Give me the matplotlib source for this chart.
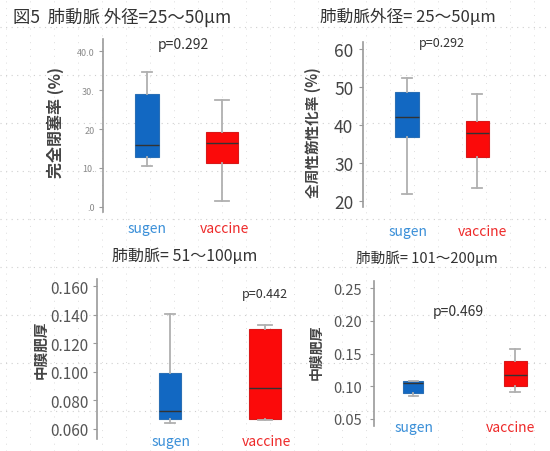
import matplotlib
matplotlib.use('Agg')
import matplotlib.pyplot as plt
import numpy as np

plt.rcParams['font.family'] = ['Noto Sans CJK JP', 'DejaVu Sans']

groups = ['sugen', 'vaccine']

# whisker low, Q1, median, Q3, whisker high
occl_sugen = [10.5, 12.8, 15.9, 29.0, 34.6]
occl_vaccine = [1.5, 11.3, 16.4, 19.2, 27.4]
fib_sugen = [21.8, 36.8, 42.1, 48.7, 52.4]
fib_vaccine = [23.4, 31.6, 37.9, 41.1, 48.2]
med51_sugen = [0.064, 0.067, 0.0725, 0.0995, 0.1405]
med51_vaccine = [0.066, 0.067, 0.089, 0.130, 0.133]
med101_sugen = [0.0847, 0.089, 0.1046, 0.1076, 0.1076]
med101_vaccine = [0.091, 0.100, 0.117, 0.138, 0.1566]

ticks1 = [0, 10, 20, 30, 40]
ticklabels1 = ['.0', '10.', '20', '30.', '40.0']
ticks2 = [20, 30, 40, 50, 60]
ticks3 = [0.06, 0.08, 0.10, 0.12, 0.14, 0.16]
ticklabels3 = ['0.060', '0.080', '0.100', '0.120', '0.140', '0.160']
ticks4 = [0.05, 0.10, 0.15, 0.20, 0.25]
ticklabels4 = ['0.05', '0.10', '0.15', '0.20', '0.25']

W, H = 550, 452
fig = plt.figure(figsize=(5.5, 4.52), dpi=100)

# faint slide grid in the background
bg = fig.add_axes([0, 0, 1, 1])
bg.set_xlim(0, W)
bg.set_ylim(H, 0)
bg.axis('off')
for yy in np.arange(28, H, 48):
    bg.axhline(yy, color='#cfcfcf', lw=0.8, ls=(0, (1, 4)))
for xx in np.arange(6, W, 24):
    bg.axvline(xx, color='#dddddd', lw=0.7, ls=(0, (1, 6)))

blue_box = '#1268c2'
red_box = '#fb0a0a'
blue_txt = '#3a8fd8'
red_txt = '#ee2a2a'


def px_axes(left, right, top, bottom):
    return fig.add_axes([left / W, 1 - bottom / H, (right - left) / W, (bottom - top) / H])


def stats(vals, label):
    lo, q1, med, q3, hi = vals
    return dict(whislo=lo, q1=q1, med=med, q3=q3, whishi=hi, label=label, fliers=[])


def panel(ax, s_vals, v_vals, widths, ylim, xlim):
    bp = ax.bxp([stats(s_vals, groups[0]), stats(v_vals, groups[1])],
                positions=[1, 2], widths=widths, patch_artist=True,
                showfliers=False,
                whiskerprops=dict(color='#b0b0b0', lw=1.3),
                capprops=dict(color='#b0b0b0', lw=1.3),
                medianprops=dict(color='#333333', lw=1.0))
    for patch, fc, ec in zip(bp['boxes'], [blue_box, red_box], ['#2a6fb5', '#d81818']):
        patch.set_facecolor(fc)
        patch.set_edgecolor(ec)
        patch.set_linewidth(0.8)
    for c, w in zip(bp['caps'], [widths[0], widths[0], widths[1], widths[1]]):
        x = c.get_xdata()
        m = (x[0] + x[1]) / 2
        c.set_xdata([m - w * 0.22, m + w * 0.22])
    ax.set_ylim(*ylim)
    ax.set_xlim(*xlim)
    ax.patch.set_alpha(0)
    for s in ['top', 'right', 'bottom']:
        ax.spines[s].set_visible(False)
    ax.spines['left'].set_color('#9a9a9a')
    ax.spines['left'].set_linewidth(1.2)
    ax.set_xticks([])
    ax.tick_params(axis='y', length=3, color='#9a9a9a')


# panel 1
ax1 = px_axes(103, 260, 40, 213)
panel(ax1, occl_sugen, occl_vaccine, [0.32, 0.42], (-1.3, 43.1), (0.413, 2.507))
ax1.set_yticks(ticks1)
ax1.set_yticklabels(ticklabels1, fontsize=6.5, color='#8a8a8a')
ax1.tick_params(axis='y', pad=3)
fig.text(13 / W, 1 - 17 / H, '図5  肺動脈 外径=25〜50μm', fontsize=12.5,
         color='#333333', ha='left', va='center')
fig.text(55 / W, 1 - 123 / H, '完全閉塞率 (%)', fontsize=11.5, fontweight='bold',
         color='#444444', rotation=90, ha='center', va='center')
fig.text(183 / W, 1 - 45 / H, 'p=0.292', fontsize=10, color='#333333', ha='center', va='center')
fig.text(147 / W, 1 - 229 / H, groups[0], fontsize=10, color=blue_txt, ha='center', va='center')
fig.text(225 / W, 1 - 229 / H, groups[1], fontsize=10, color=red_txt, ha='center', va='center')

# panel 2
ax2 = px_axes(363, 545, 43, 208)
panel(ax2, fib_sugen, fib_vaccine, [0.33, 0.33], (18.4, 61.8), (0.371, 2.97))
ax2.set_yticks(ticks2)
ax2.set_yticklabels([str(t) for t in ticks2], fontsize=12.5, color='#444444')
ax2.tick_params(axis='y', pad=4)
fig.text(408 / W, 1 - 17 / H, '肺動脈外径= 25〜50μm', fontsize=12,
         color='#333333', ha='center', va='center')
fig.text(313 / W, 1 - 133 / H, '全周性筋性化率 (%)', fontsize=10.5, fontweight='bold',
         color='#444444', rotation=90, ha='center', va='center')
fig.text(442 / W, 1 - 43 / H, 'p=0.292', fontsize=9, color='#333333', ha='center', va='center')
fig.text(408 / W, 1 - 232 / H, groups[0], fontsize=10, color=blue_txt, ha='center', va='center')
fig.text(482 / W, 1 - 232 / H, groups[1], fontsize=10, color=red_txt, ha='center', va='center')

# panel 3
ax3 = px_axes(97, 300, 280, 440)
panel(ax3, med51_sugen, med51_vaccine, [0.23, 0.34], (0.053, 0.1649), (0.232, 2.37))
ax3.set_yticks(ticks3)
ax3.set_yticklabels(ticklabels3, fontsize=11, color='#555555')
ax3.tick_params(axis='y', pad=3)
fig.text(185 / W, 1 - 257 / H, '肺動脈= 51〜100μm', fontsize=11.5,
         color='#333333', ha='center', va='center')
fig.text(40 / W, 1 - 350 / H, '中膜肥厚', fontsize=10.5, fontweight='bold',
         color='#444444', rotation=90, ha='center', va='center')
fig.text(265 / W, 1 - 295 / H, 'p=0.442', fontsize=9, color='#333333', ha='center', va='center')
fig.text(171 / W, 1 - 442 / H, groups[0], fontsize=10, color=blue_txt, ha='center', va='center')
fig.text(266 / W, 1 - 442 / H, groups[1], fontsize=10, color=red_txt, ha='center', va='center')

# panel 4
ax4 = px_axes(374, 548, 282, 427)
panel(ax4, med101_sugen, med101_vaccine, [0.2, 0.22], (0.0393, 0.2607), (0.618, 2.32))
ax4.set_yticks(ticks4)
ax4.set_yticklabels(ticklabels4, fontsize=10.5, color='#555555')
ax4.tick_params(axis='y', pad=6)
fig.text(427 / W, 1 - 258 / H, '肺動脈= 101〜200μm', fontsize=10.5,
         color='#333333', ha='center', va='center')
fig.text(317 / W, 1 - 352 / H, '中膜肥厚', fontsize=10, fontweight='bold',
         color='#444444', rotation=90, ha='center', va='center')
fig.text(458 / W, 1 - 312 / H, 'p=0.469', fontsize=10, color='#333333', ha='center', va='center')
fig.text(414 / W, 1 - 428 / H, groups[0], fontsize=10, color=blue_txt, ha='center', va='center')
fig.text(511 / W, 1 - 428 / H, groups[1], fontsize=10, color=red_txt, ha='center', va='center')

fig.savefig('out.png', dpi=100)
